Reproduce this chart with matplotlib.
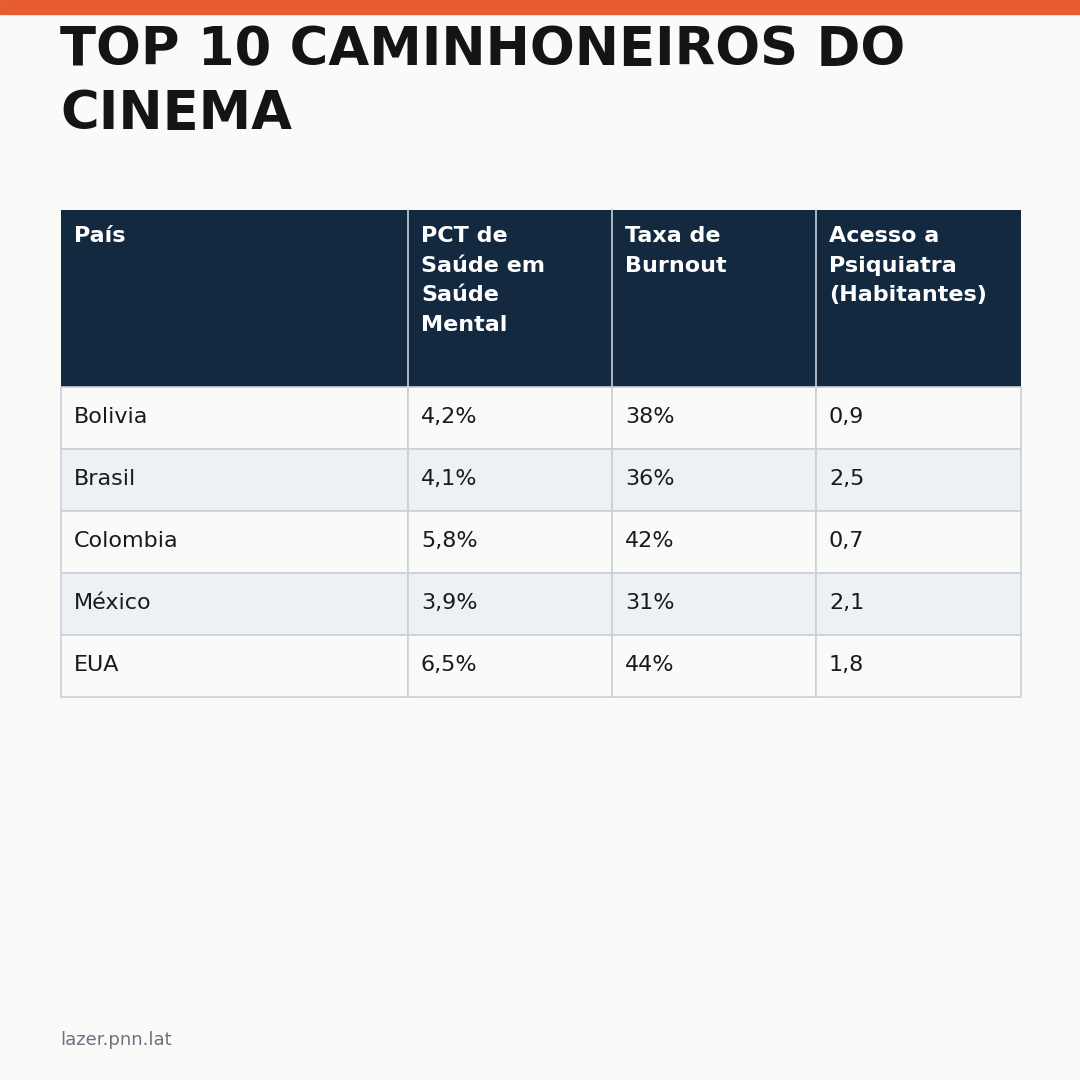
import matplotlib.pyplot as plt
from matplotlib.patches import Rectangle

title = "TOP 10 CAMINHONEIROS DO\nCINEMA"
headers = ["País", "PCT de\nSaúde em\nSaúde\nMental", "Taxa de\nBurnout", "Acesso a\nPsiquiatra\n(Habitantes)"]
paises = ["Bolivia", "Brasil", "Colombia", "México", "EUA"]
pct_saude = ["4,2%", "4,1%", "5,8%", "3,9%", "6,5%"]
burnout = ["38%", "36%", "42%", "31%", "44%"]
psiquiatra = ["0,9", "2,5", "0,7", "2,1", "1,8"]
footer = "lazer.pnn.lat"

col_x = [61, 408, 612, 816, 1021]
head_top, head_bot, row_h = 210, 387, 62

fig = plt.figure(figsize=(10.8, 10.8), dpi=100)
fig.patch.set_facecolor("#FAFAF8")
ax = fig.add_axes([0, 0, 1, 1])
ax.set_xlim(0, 1080)
ax.set_ylim(1080, 0)
ax.axis("off")

ax.add_patch(Rectangle((0, 0), 1080, 14, color="#E85D2F"))
ax.text(60, 82, title, fontsize=38, fontweight="bold", color="#141414",
        va="center", linespacing=1.3)

# header
ax.add_patch(Rectangle((col_x[0], head_top), col_x[-1] - col_x[0], head_bot - head_top,
                       facecolor="#12293F", edgecolor="none"))
clip = Rectangle((col_x[0], head_top), col_x[-1] - col_x[0], head_bot - head_top,
                 transform=ax.transData, visible=False)
ax.add_patch(clip)
for i, h in enumerate(headers):
    t = ax.text(col_x[i] + 13, 226, h, fontsize=16, fontweight="bold", color="white",
                va="top", linespacing=1.6)
    t.set_clip_path(clip)
    if i > 0:
        ax.plot([col_x[i]] * 2, [head_top, head_bot], color="#C8D0DA", lw=1.2)

rows = list(zip(paises, pct_saude, burnout, psiquiatra))
for r, vals in enumerate(rows):
    y0 = head_bot + r * row_h
    fc = "#FAFAF8" if r % 2 == 0 else "#EEF1F4"
    for c in range(4):
        ax.add_patch(Rectangle((col_x[c], y0), col_x[c + 1] - col_x[c], row_h,
                               facecolor=fc, edgecolor="#C8D0DA", lw=1.2))
        ax.text(col_x[c] + 13, y0 + 30, vals[c], fontsize=16, color="#1A1A1A", va="center")

ax.text(60, 1040, footer, fontsize=13, color="#6B7280", va="center")

fig.savefig("out.png", dpi=100, facecolor=fig.get_facecolor())
